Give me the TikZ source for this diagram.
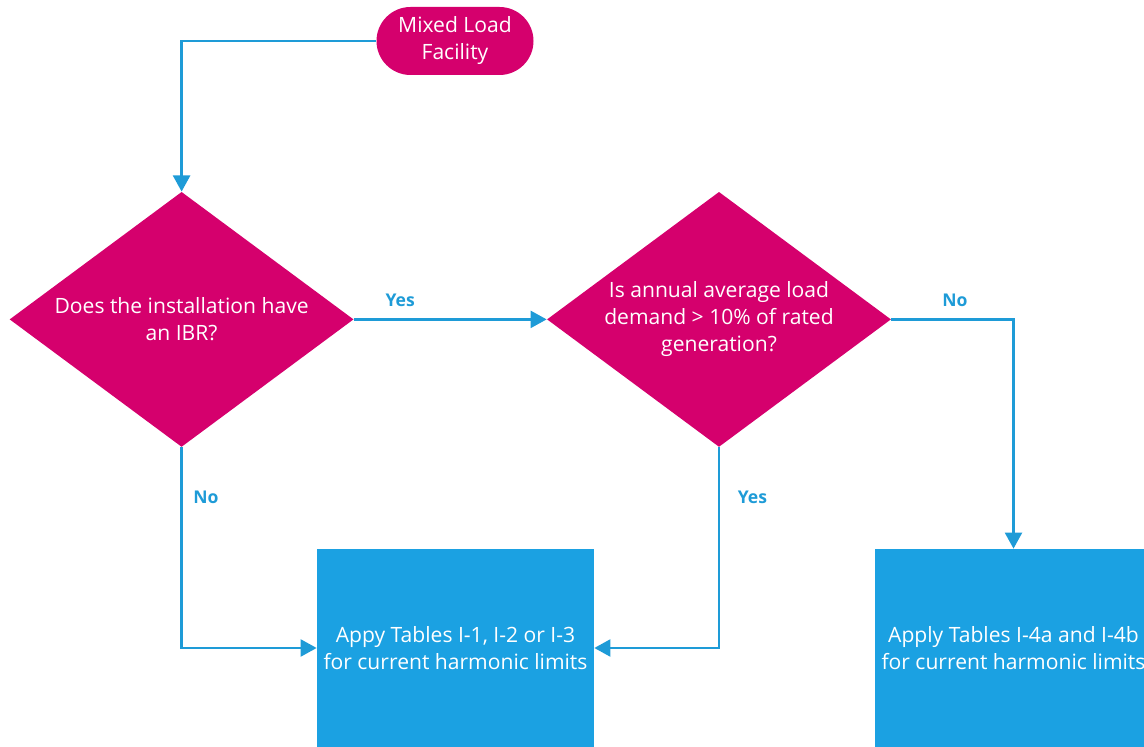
\documentclass[tikz,border=0pt]{standalone}
\usepackage{fontspec}
\setmainfont{Open Sans}
\usetikzlibrary{shapes.geometric, arrows.meta}
\definecolor{rose}{HTML}{D5006D}
\definecolor{sky}{HTML}{1BA1E2}
\definecolor{wire}{HTML}{1E9BD7}

\tikzset{
  txt/.style={text=white, align=center, font=\fontsize{15}{19.2}\selectfont},
  terminal/.style={txt, rectangle, rounded corners=0.85cm, fill=rose, minimum width=3.925cm, minimum height=1.7cm},
  decision/.style={diamond, fill=rose, inner sep=0pt, minimum width=8.6cm, minimum height=6.375cm},
  action/.style={txt, rectangle, fill=sky, minimum width=6.925cm, minimum height=4.95cm},
  flow/.style={draw=wire, line width=2.1pt, -{Triangle[length=11.5pt,width=12pt]}},
  tag/.style={text=wire, font=\fontsize{12.5}{15}\selectfont\bfseries}
}

\begin{document}
\begin{tikzpicture}
        \clip (0,0) rectangle (28.6,18.675);

        \node[terminal] (start) at (11.375,17.65) {Mixed Load\\Facility};
        \node[decision, label={[txt]center:{Does the installation have\\an IBR?}}] (ibr) at (4.54,10.69) {};
        \node[decision, label={[txt]center:{Is annual average load\\demand > 10\% of rated\\generation?}}] (load) at (17.975,10.69) {};
        \node[action] (small) at (11.3875,2.475) {Appy Tables I-1, I-2 or I-3\\for current harmonic limits};
        \node[action] (large) at (25.3375,2.475) {Apply Tables I-4a and I-4b\\for current harmonic limits};

        \draw[flow] (start.west) -| (ibr.north);
        \draw[flow] (ibr.east) -- node[tag, pos=0.24, above=5pt] {Yes} (load.west);
        \draw[flow] (ibr.south) |- node[tag, pos=0.125, anchor=west, xshift=4pt] {No} (small.west);
        \draw[flow] (load.south) |- node[tag, pos=0.125, anchor=west, xshift=9pt] {Yes} (small.east);
        \draw[flow] (load.east) -| node[tag, pos=0.26, above=5pt] {No} (large.north);
\end{tikzpicture}
\end{document}
